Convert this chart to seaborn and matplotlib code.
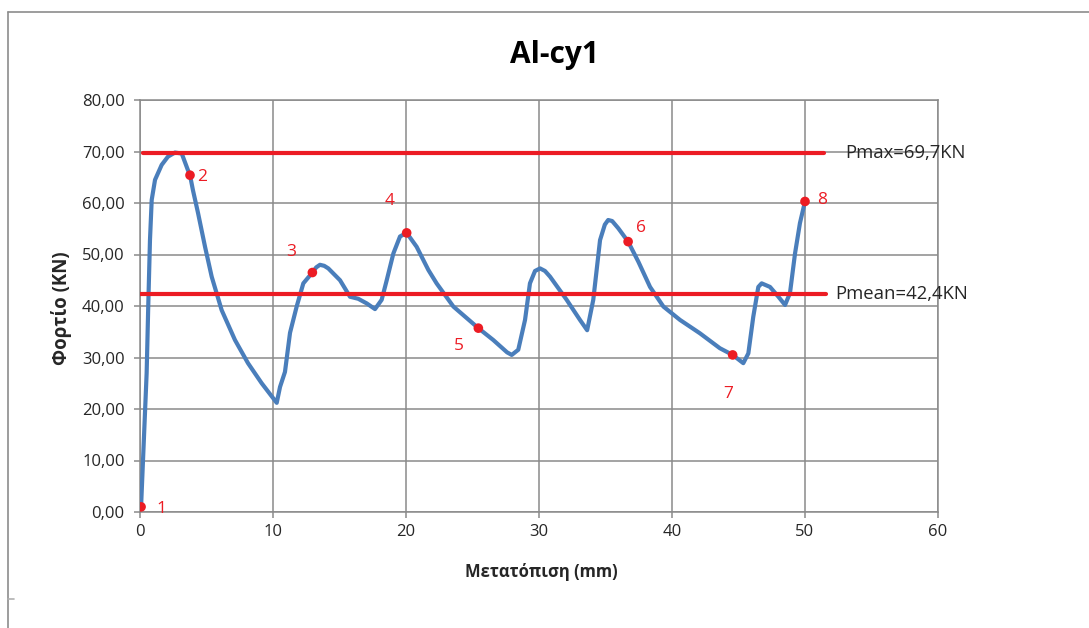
import matplotlib
matplotlib.use("Agg")
import matplotlib.pyplot as plt
from matplotlib.lines import Line2D
import seaborn as sns
import pandas as pd

# Load-displacement curve of specimen Al-cy1
displacement = [0.08, 0.5, 0.62, 0.75, 0.88, 1.13, 1.63, 2.1, 2.63, 3.14, 3.6, 3.76,
                3.98, 4.36, 4.89, 5.39, 6.14, 7.14, 8.12, 9.15, 10.28, 10.53, 10.9,
                11.28, 11.78, 12.28, 12.96, 13.25, 13.53, 13.85, 14.16, 15.04, 15.79,
                16.41, 17.05, 17.67, 18.17, 18.55, 19.05, 19.55, 20.05, 20.8, 21.68,
                22.3, 23.56, 25.44, 26.56, 27.6, 27.95, 28.44, 28.95, 29.32, 29.7,
                30.08, 30.45, 30.83, 32.08, 33.08, 33.62, 34.08, 34.59, 34.95, 35.2,
                35.5, 35.96, 36.7, 37.47, 38.35, 39.35, 40.6, 42.1, 43.6, 44.56,
                45.36, 45.74, 46.11, 46.49, 46.74, 47.37, 48.0, 48.5, 48.87, 49.25,
                49.62, 50.0]
load = [1.0, 27.0, 40.0, 52.8, 60.6, 64.5, 67.4, 69.0, 69.8, 69.6, 66.4, 65.4,
        62.5, 58.1, 51.5, 45.7, 39.2, 33.4, 28.9, 25.0, 21.2, 24.3, 27.2,
        34.8, 39.9, 44.4, 46.5, 47.5, 48.0, 47.8, 47.3, 45.0, 41.8,
        41.4, 40.5, 39.4, 41.2, 45.0, 50.2, 53.5, 54.2, 51.5, 47.0,
        44.4, 39.9, 35.7, 33.4, 31.0, 30.5, 31.5, 37.3, 44.4, 46.8,
        47.3, 46.8, 45.7, 41.2, 37.3, 35.3, 41.2, 52.8, 55.8, 56.7,
        56.5, 55.1, 52.5, 48.6, 43.7, 39.9, 37.3, 34.7, 31.8, 30.5,
        28.9, 30.8, 37.9, 43.7, 44.4, 43.7, 41.8, 40.2, 42.5, 50.2,
        56.1, 60.3]

# Numbered reference points along the curve
point_labels = ["1", "2", "3", "4", "5", "6", "7", "8"]
point_x = [0.08, 3.76, 12.96, 20.05, 25.44, 36.7, 44.56, 50.0]
point_y = [1.0, 65.4, 46.5, 54.2, 35.7, 52.5, 30.5, 60.3]
# label offsets (points) relative to each marker
label_dx = [15, 9, -15, -12, -14, 9, -3, 12]
label_dy = [-1.5, -1, 15, 23, -13, 10, -28, 0.7]

# Maximum and mean load lines
p_max = 69.7
p_mean = 42.4
pmax_x = [0.2, 51.4]
pmean_x = [0.0, 51.6]
pmax_text = "Pmax=69,7KN"
pmean_text = "Pmean=42,4KN"

x_ticks = [0, 10, 20, 30, 40, 50, 60]
y_ticks = [0, 10, 20, 30, 40, 50, 60, 70, 80]
y_tick_labels = ["0,00", "10,00", "20,00", "30,00", "40,00", "50,00", "60,00", "70,00", "80,00"]

title = "Al-cy1"
x_label = "Μετατόπιση (mm)"
y_label = "Φορτίο (KN)"

sns.set_style("white")
plt.rcParams["font.family"] = ["Open Sans", "DejaVu Sans"]

BLUE = "#4a7ebb"
RED = "#ec1c24"
GRID = "#8a8a8a"
TEXT = "#262626"

W, H = 1089, 628
fig = plt.figure(figsize=(W / 100, H / 100), dpi=100)
ax = fig.add_axes([140 / W, 1 - 512 / H, 798 / W, 412 / H])

curve = pd.DataFrame({"x": displacement, "y": load})
sns.lineplot(data=curve, x="x", y="y", sort=False, color=BLUE, lw=3.0,
             ax=ax, zorder=3, solid_joinstyle="round", solid_capstyle="round")

sns.lineplot(x=pmax_x, y=[p_max, p_max], color=RED, lw=3.0, ax=ax, zorder=4)
sns.lineplot(x=pmean_x, y=[p_mean, p_mean], color=RED, lw=3.0, ax=ax, zorder=4)

sns.scatterplot(x=point_x, y=point_y, color=RED, s=48, edgecolor="none",
                ax=ax, zorder=5)
for lab, px, py, dx, dy in zip(point_labels, point_x, point_y, label_dx, label_dy):
    ax.annotate(lab, (px, py), xytext=(dx, dy), textcoords="offset points",
                ha="center", va="center", color=RED, fontsize=12.5)

ax.text(53.0, p_max, pmax_text, ha="left", va="center", fontsize=13.3, color=TEXT)
ax.text(52.3, p_mean, pmean_text, ha="left", va="center", fontsize=13.3, color=TEXT)

ax.set_xlim(0, 60)
ax.set_ylim(0, 80)
ax.set_xticks(x_ticks)
ax.set_xticklabels([str(t) for t in x_ticks])
ax.set_yticks(y_ticks)
ax.set_yticklabels(y_tick_labels)
ax.set_xlabel("")
ax.set_ylabel("")
ax.grid(True, color=GRID, lw=1.1)
ax.set_axisbelow(True)
for s in ax.spines.values():
    s.set_color(GRID)
    s.set_linewidth(1.1)
ax.tick_params(axis="both", colors=GRID, labelcolor=TEXT, labelsize=12,
               length=4, width=1.1, direction="out", left=True, bottom=True)
ax.tick_params(axis="x", pad=5)
ax.tick_params(axis="y", pad=7)

fig.text(554 / W, 1 - 63 / H, title, ha="center", va="baseline",
         fontsize=21.5, fontweight="bold", color="black")
fig.text(541 / W, 1 - 572 / H, x_label, ha="center", va="center",
         fontsize=12, fontweight="bold", color=TEXT)
fig.text(62 / W, 1 - 308 / H, y_label, ha="center", va="center", rotation=90,
         fontsize=13.5, fontweight="bold", color=TEXT)

# outer chart frame
fig.add_artist(Line2D([8 / W, 1], [1 - 12 / H, 1 - 12 / H], color="#8c8c8c", lw=1.2))
fig.add_artist(Line2D([8 / W, 8 / W], [0, 1 - 12 / H], color="#8c8c8c", lw=1.2))
fig.add_artist(Line2D([8 / W, 14 / W], [1 - 599 / H, 1 - 599 / H], color="#b0b0b0", lw=1.2))

fig.savefig("out.png", dpi=100)
